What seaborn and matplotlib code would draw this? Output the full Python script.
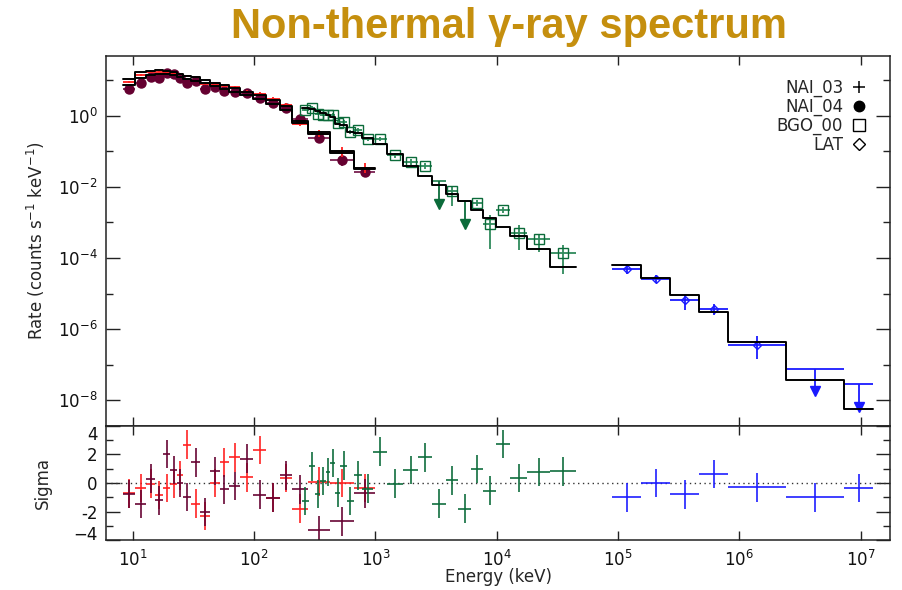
import numpy as np
import matplotlib
matplotlib.use("Agg")
import matplotlib.pyplot as plt
import seaborn as sns
from matplotlib.lines import Line2D
from matplotlib.ticker import FixedLocator, NullLocator, FuncFormatter
import matplotlib.transforms as mtransforms

# ---------------- data ----------------
# NaI detectors: energy bin edges (keV)
nai_edges = [8.3, 10.5, 12.9, 15.3, 17.8, 20.4, 23.1, 26.1, 30.1, 36.0, 43.5, 52.0,
             62.0, 77.0, 98.0, 126.0, 163.0, 205.0, 277.0, 425.0, 664.0, 1000.0]
nai03_rate = [9.0, 14.0, 17.0, 17.5, 17.0, 16.0, 14.5, 13.5, 12.5, 7.8, 7.5, 7.0,
              6.5, 4.8, 4.2, 3.0, 2.0, 0.60, 0.31, 0.095, 0.034]
nai03_err = [0.03, 0.03, 0.02, 0.02, 0.02, 0.02, 0.02, 0.02, 0.02, 0.03, 0.03, 0.03,
             0.03, 0.03, 0.04, 0.04, 0.05, 0.06, 0.10, 0.15, 0.14]
nai03_model = [10.5, 16.5, 18.5, 18.8, 18.0, 16.5, 15.0, 13.5, 12.0, 10.2, 8.6, 7.2,
               6.0, 4.8, 3.8, 2.8, 1.9, 0.70, 0.34, 0.10, 0.035]
nai03_sigma = [-0.72, -0.36, -0.04, -0.85, -0.36, -0.04, 0.54, 2.7, -1.44, -2.33, 0.0, 1.44,
               1.8, 0.4, 2.33, -1.03, 0.36, -1.8, 0.09, 0.0, -0.36]

nai04_rate = [5.8, 8.6, 12.7, 11.9, 15.5, 14.5, 11.9, 8.6, 9.8, 5.5, 6.6, 5.1,
              4.8, 4.5, 3.2, 2.3, 1.7, 0.80, 0.24, 0.057, 0.026]
nai04_err = [0.03, 0.03, 0.02, 0.02, 0.02, 0.02, 0.02, 0.02, 0.02, 0.03, 0.03, 0.03,
             0.03, 0.03, 0.04, 0.04, 0.05, 0.06, 0.10, 0.17, 0.14]
nai04_model = [7.2, 11.5, 14.0, 15.0, 15.0, 14.0, 12.5, 11.0, 9.6, 8.1, 6.8, 5.7,
               4.7, 3.8, 3.0, 2.2, 1.5, 0.62, 0.31, 0.092, 0.031]
nai04_sigma = [-0.78, -1.48, 0.31, -1.21, 2.02, 0.9, 0.0, -0.99, 1.44, -2.02, 0.85, -0.45,
               -0.22, 1.71, -0.81, -1.03, 0.54, -0.45, -3.32, -2.7, -0.72]

# BGO detector
bgo_edges = [247, 282, 317, 351, 390, 425, 463, 513, 581, 664, 780, 961, 1253, 1698,
             2258, 2945, 3805, 4826, 6116, 7755, 9832, 12824, 17878, 27660, 45310]
bgo_rate = [1.48, 1.69, 1.14, 1.07, 1.07, 1.07, 0.63, 0.68, 0.35, 0.40, 0.223, 0.223,
            0.0785, 0.0498, 0.0384, 0.0145, 0.0075, 0.0039, 0.00347, 0.00093, 0.0022,
            0.00051, 0.00035, 0.000141]
bgo_err_lo = [0.04, 0.04, 0.04, 0.04, 0.04, 0.04, 0.05, 0.05, 0.05, 0.05, 0.06, 0.06,
              0.07, 0.08, 0.08, 0.0, 0.42, 0.0, 0.08, 0.70, 0.08, 0.48, 0.37, 0.60]
bgo_err_hi = [0.04, 0.04, 0.04, 0.04, 0.04, 0.04, 0.05, 0.05, 0.05, 0.05, 0.06, 0.06,
              0.07, 0.08, 0.08, 0.0, 0.14, 0.0, 0.08, 0.25, 0.08, 0.23, 0.14, 0.23]
bgo_upper_limit = [0, 0, 0, 0, 0, 0, 0, 0, 0, 0, 0, 0, 0, 0, 0, 1, 0, 1, 0, 0, 0, 0, 0, 0]
bgo_model = [1.7, 1.55, 1.35, 1.2, 1.05, 0.92, 0.60, 0.55, 0.36, 0.32, 0.24, 0.16,
             0.085, 0.038, 0.020, 0.011, 0.0062, 0.0039, 0.0023, 0.0013, 0.00076,
             0.00043, 0.00018, 0.000056]
bgo_sigma = [-1.26, 1.17, -0.76, 0.13, 0.76, 1.39, -0.67, 1.21, -1.26, 0.54, -0.4, 2.2,
             -0.04, 0.9, 1.8, -1.44, 0.18, -1.8, 0.99, -0.54, 2.74, 0.36, 0.76, 0.81]

# LAT
lat_edges = [8.98e4, 1.556e5, 2.698e5, 4.677e5, 8.11e5, 2.44e6, 7.34e6, 1.27e7]
lat_rate = [4.9e-5, 2.6e-5, 6.5e-6, 3.6e-6, 3.7e-7, 7.8e-8, 2.9e-8]
lat_err_lo = [0.13, 0.11, 0.28, 0.17, 0.42, 0.0, 0.0]
lat_err_hi = [0.13, 0.11, 0.14, 0.14, 0.23, 0.0, 0.0]
lat_upper_limit = [0, 0, 0, 0, 0, 1, 1]
lat_model = [6.4e-5, 2.75e-5, 9.1e-6, 3.0e-6, 4.5e-7, 3.8e-8, 5.7e-9]
lat_sigma = [-1.0, 0.0, -0.8, 0.63, -0.31, -1.0, -0.36]

legend_labels = ["NAI_03", "NAI_04", "BGO_00", "LAT"]
x_tick_values = [1e1, 1e2, 1e3, 1e4, 1e5, 1e6, 1e7]
y_tick_values = [1e-8, 1e-6, 1e-4, 1e-2, 1e0]
y_minor_values = [1e-7, 1e-5, 1e-3, 1e-1, 1e1]
sigma_ticks = [-4, -2, 0, 2, 4]
sigma_minor = [-3, -1, 1, 3]

# colours
C_RED = "#ff1e1e"
C_MAROON = "#650030"
C_MAROON_E = "#7a2050"
C_GREEN = "#0b6b3a"
C_GREEN_E = "#2f8a5c"
C_BLUE = "#1a1aff"
TITLE_C = "#C58F0E"

# ---------------- style ----------------
sns.set_theme(style="ticks")
plt.rcParams["font.family"] = ["DejaVu Sans"]
plt.rcParams["mathtext.default"] = "regular"
plt.rcParams["axes.linewidth"] = 1.1
plt.rcParams["axes.edgecolor"] = "#222222"

fig = plt.figure(figsize=(9.03, 5.90), dpi=100)
ax1 = fig.add_axes([0.1174, 0.2780, 0.8682, 0.6271])
ax2 = fig.add_axes([0.1174, 0.0847, 0.8682, 0.1933])
for ax in (ax1, ax2):
    ax.set_xscale("log")
    ax.set_xlim(6.0, 1.75e7)
ax1.set_yscale("log")
ax1.set_ylim(1.9e-9, 48)
ax2.set_ylim(-4, 4)


def bins(edges):
    e = np.asarray(edges, float)
    c = np.sqrt(e[:-1] * e[1:])
    return c, e[:-1], e[1:]


ARROW_DEX = 0.7


def draw_spec(ax, edges, rate, elo, ehi, ul, color, ecolor, marker, ms, filled,
              mew=1.0, z=2):
    c, lo, hi = bins(edges)
    r = np.asarray(rate, float)
    ul = np.asarray(ul, bool)
    elo = np.asarray(elo, float)
    ehi = np.asarray(ehi, float)
    ok = ~ul
    yl = r - r * 10 ** (-elo)
    yh = r * 10 ** ehi - r
    ax.errorbar(c[ok], r[ok], xerr=[c[ok] - lo[ok], hi[ok] - c[ok]],
                yerr=[yl[ok], yh[ok]], fmt="none", ecolor=ecolor, elinewidth=1.3,
                capsize=0, zorder=z)
    if marker is not None:
        ax.plot(c[ok], r[ok], linestyle="none", marker=marker, markersize=ms,
                markerfacecolor=color if filled else "none", markeredgecolor=color,
                markeredgewidth=mew, zorder=z + 0.5)
    if ul.any():
        tip = r[ul] * 10 ** (-ARROW_DEX)
        ax.hlines(r[ul], lo[ul], hi[ul], color=ecolor, lw=1.3, zorder=z)
        ax.vlines(c[ul], tip, r[ul], color=color, lw=1.3, zorder=z)
        ax.plot(c[ul], tip * 10 ** 0.06, linestyle="none", marker="v", markersize=7,
                color=color, zorder=z + 0.5)


def draw_model(ax, edges, model):
    yy = list(model) + [model[-1]]
    sns.lineplot(x=list(edges), y=yy, ax=ax, drawstyle="steps-post", color="black",
                 lw=1.4, estimator=None, sort=False, legend=False, zorder=3)


def draw_sigma(ax, edges, sig, color, alpha=0.9):
    c, lo, hi = bins(edges)
    ax.errorbar(c, sig, xerr=[c - lo, hi - c], yerr=np.ones(len(c)), fmt="none",
                ecolor=color, elinewidth=1.3, capsize=0, alpha=alpha, zorder=2)


n = len(nai03_rate)
zeros = [0] * n
draw_spec(ax1, nai_edges, nai04_rate, nai04_err, nai04_err, zeros, C_MAROON, C_MAROON_E,
          "o", 6.5, True)
draw_spec(ax1, nai_edges, nai03_rate, nai03_err, nai03_err, zeros, C_RED, C_RED,
          None, 0, False, z=2.8)
draw_spec(ax1, bgo_edges, bgo_rate, bgo_err_lo, bgo_err_hi, bgo_upper_limit, C_GREEN,
          C_GREEN_E, "s", 6.5, False)
draw_spec(ax1, lat_edges, lat_rate, lat_err_lo, lat_err_hi, lat_upper_limit, C_BLUE,
          C_BLUE, "D", 4.5, False)

draw_model(ax1, nai_edges, nai03_model)
draw_model(ax1, nai_edges, nai04_model)
draw_model(ax1, bgo_edges, bgo_model)
draw_model(ax1, lat_edges, lat_model)

draw_sigma(ax2, nai_edges, nai03_sigma, C_RED)
draw_sigma(ax2, nai_edges, nai04_sigma, C_MAROON)
draw_sigma(ax2, bgo_edges, bgo_sigma, C_GREEN)
draw_sigma(ax2, lat_edges, lat_sigma, C_BLUE)
ax2.axhline(0, color="#333333", lw=1.0, ls=(0, (1, 2.5)), zorder=1)

# ---------------- ticks ----------------
logfmt = FuncFormatter(lambda v, p: r"$10^{%d}$" % int(round(np.log10(v))))
for ax in (ax1, ax2):
    ax.xaxis.set_major_locator(FixedLocator(x_tick_values))
    ax.xaxis.set_minor_locator(NullLocator())
    ax.tick_params(which="both", direction="in", top=True, right=True,
                   colors="#222222", width=1.0)
    ax.tick_params(axis="x", which="major", length=6.5)
    ax.tick_params(axis="y", which="major", length=10)
    ax.tick_params(axis="y", which="minor", length=5)
    ax.tick_params(labelsize=12, labelcolor="#111111")

ax1.xaxis.set_major_formatter(logfmt)
ax1.tick_params(axis="x", labelbottom=False)
ax1.yaxis.set_major_locator(FixedLocator(y_tick_values))
ax1.yaxis.set_minor_locator(FixedLocator(y_minor_values))
ax1.yaxis.set_major_formatter(logfmt)
ax1.yaxis.set_minor_formatter(FuncFormatter(lambda v, p: ""))
ax1.tick_params(axis="y", pad=6)

ax2.xaxis.set_major_formatter(logfmt)
ax2.tick_params(axis="x", pad=7)
ax2.yaxis.set_major_locator(FixedLocator(sigma_ticks))
ax2.yaxis.set_minor_locator(FixedLocator(sigma_minor))
# the end labels (+4 / -4) are drawn separately, tucked inside the panel edges
ax2.yaxis.set_major_formatter(FuncFormatter(lambda v, p: "" if abs(v) > 3.5 else "%d" % v))
ax2.tick_params(axis="y", pad=6)
lbl_tr = mtransforms.blended_transform_factory(ax2.transAxes, ax2.transData)
lbl_off = mtransforms.ScaledTranslation(-6 / 72, 0, fig.dpi_scale_trans)
ax2.text(0, sigma_ticks[-1], "%d" % sigma_ticks[-1], transform=lbl_tr + lbl_off,
         ha="right", va="top", fontsize=12, color="#111111")
ax2.text(0, sigma_ticks[0], "\u2212%d" % abs(sigma_ticks[0]), transform=lbl_tr + lbl_off,
         ha="right", va="baseline", fontsize=12, color="#111111")

ax1.set_ylabel(r"Rate (counts s$^{-1}$ keV$^{-1}$)", fontsize=12, labelpad=8)
ax2.set_ylabel("Sigma", fontsize=12, labelpad=21)
ax2.set_xlabel("Energy (keV)", fontsize=12, labelpad=-1)

# ---------------- legend ----------------
handles = [
    Line2D([], [], ls="none", marker="+", color="black", markersize=9, markeredgewidth=1.1),
    Line2D([], [], ls="none", marker="o", color="black", markersize=7.5),
    Line2D([], [], ls="none", marker="s", markerfacecolor="none", markeredgecolor="black",
           markersize=8, markeredgewidth=1.0),
    Line2D([], [], ls="none", marker="D", markerfacecolor="none", markeredgecolor="black",
           markersize=6, markeredgewidth=1.0),
]
ax1.legend(handles, legend_labels, loc="upper right", bbox_to_anchor=(0.985, 0.97),
           frameon=False, markerfirst=False, fontsize=12, handlelength=0.9,
           handletextpad=0.5, labelspacing=0.04, borderpad=0.2)

fig.text(509 / 903, 1 - 27 / 590, "Non-thermal γ-ray spectrum", ha="center", va="center",
         fontsize=30, fontweight="bold", color=TITLE_C,
         family=["Liberation Sans Narrow", "Liberation Sans", "DejaVu Sans"])

fig.savefig("out.png", dpi=100)
